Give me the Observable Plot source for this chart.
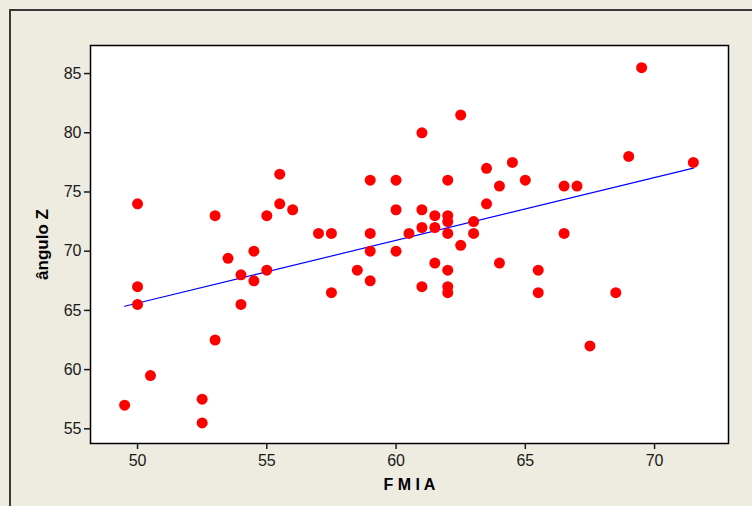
<!DOCTYPE html>
<html>
<head>
<meta charset="utf-8">
<script src="https://cdn.jsdelivr.net/npm/d3@7"></script>
<script src="https://cdn.jsdelivr.net/npm/@observablehq/plot@0.6"></script>
<style>
  html, body { margin: 0; padding: 0; background: #eeebe1; }
  #wrap { position: relative; width: 752px; height: 506px; overflow: hidden; }
  #border { position: absolute; left: 9px; top: 9px; width: 800px; height: 600px;
            border-left: 2px solid #3a3a3a; border-top: 2px solid #3a3a3a; pointer-events: none; }
</style>
</head>
<body>
<div id="wrap"><div id="border"></div></div>
<script>
// FMIA values (x)
const fmia = [
  49.5, 50, 50, 50, 50.5, 52.5, 52.5, 53, 53, 53.5,
  54, 54, 54.5, 54.5, 55, 55, 55.5, 55.5, 56, 57,
  57.5, 57.5, 58.5, 59, 59, 59, 59, 60, 60, 60,
  60.5, 61, 61, 61, 61, 61.5, 61.5, 61.5, 62, 62,
  62, 62, 62, 62, 62, 62.5, 62.5, 63, 63, 63.5,
  63.5, 64, 64, 64.5, 65, 65.5, 65.5, 66.5, 66.5, 67,
  67.5, 68.5, 69, 69.5, 71.5
];
// ângulo Z values (y)
const anguloZ = [
  57, 74, 67, 65.5, 59.5, 57.5, 55.5, 73, 62.5, 69.4,
  68, 65.5, 70, 67.5, 73, 68.4, 76.5, 74, 73.5, 71.5,
  71.5, 66.5, 68.4, 76, 71.5, 70, 67.5, 76, 73.5, 70,
  71.5, 80, 73.5, 72, 67, 73, 72, 69, 76, 73,
  72.5, 71.5, 68.4, 67, 66.5, 81.5, 70.5, 72.5, 71.5, 77,
  74, 75.5, 69, 77.5, 76, 68.4, 66.5, 75.5, 71.5, 75.5,
  62, 66.5, 78, 85.5, 77.5
];
const xTicks = [50, 55, 60, 65, 70];
const yTicks = [55, 60, 65, 70, 75, 80, 85];
const xLabel = "F M I A";
const yLabel = "ângulo Z";

const data = fmia.map((x, i) => ({x, y: anguloZ[i]}));

const chart = Plot.plot({
  width: 752,
  height: 506,
  marginLeft: 90,
  marginRight: 24,
  marginTop: 45,
  marginBottom: 63,
  style: { background: "transparent", color: "#1a1a1a", fontFamily: "'Liberation Sans', Arial, sans-serif", fontSize: "16px" },
  x: { domain: [48.18, 72.86] },
  y: { domain: [53.76, 87.37] },
  marks: [
    Plot.frame({ fill: "white" }),
    Plot.frame({ stroke: "#000", strokeWidth: 1.5 }),
    Plot.axisX({ ticks: xTicks, tickSize: 6, tickPadding: 5, label: null, fontSize: 16, strokeWidth: 1.5 }),
    Plot.axisY({ ticks: yTicks, tickSize: 6, tickPadding: 3, label: null, fontSize: 16, strokeWidth: 1.5 }),
    Plot.linearRegressionY(data, { x: "x", y: "y", ci: 0, stroke: "#0000ff", strokeWidth: 1.2 }),
    Plot.dot(data, { x: "x", y: "y", r: 5.5, fill: "#ff0000", stroke: "none" }),
    Plot.text([xLabel], { frameAnchor: "bottom", dy: 41, textAnchor: "middle", lineAnchor: "middle", fontWeight: "bold", fontSize: 16, fill: "#000" }),
    Plot.text([yLabel], { frameAnchor: "left", dx: -48, rotate: -90, textAnchor: "middle", lineAnchor: "middle", fontWeight: "bold", fontSize: 17, fill: "#000" })
  ]
});
document.getElementById("wrap").insertBefore(chart, document.getElementById("border"));
</script>
</body>
</html>
